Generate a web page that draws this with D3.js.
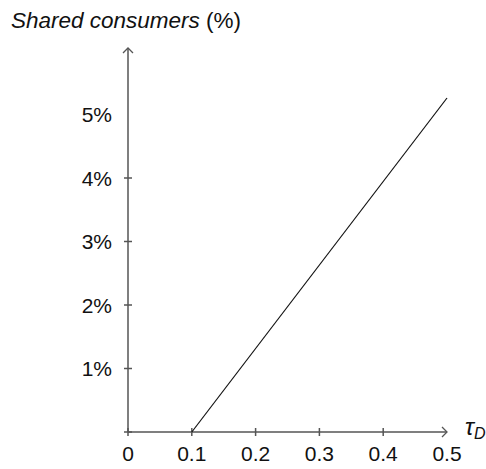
<!DOCTYPE html>
<html>
<head>
<meta charset="utf-8">
<script src="https://cdn.jsdelivr.net/npm/d3@7"></script>
<style>
  html, body { margin: 0; padding: 0; background: #fff; }
  svg { display: block; font-family: "Liberation Sans", Arial, sans-serif; }
</style>
</head>
<body>
<div id="chart"></div>
<script>
// data
const tauValues = [0.1, 0.5];
const sharedValues = [0, 5.26];
const xTickValues = [0, 0.1, 0.2, 0.3, 0.4, 0.5];
const xTickLabels = ["0", "0.1", "0.2", "0.3", "0.4", "0.5"];
const yTickValues = [1, 2, 3, 4, 5];
const yTickLabels = ["1%", "2%", "3%", "4%", "5%"];

const width = 486, height = 469;

const svg = d3.select("#chart")
    .append("svg")
    .attr("width", width)
    .attr("height", height);

const x = d3.scaleLinear().domain([0, 0.5]).range([128, 447]);
const y = d3.scaleLinear().domain([0, 5]).range([432, 114.5]);

const axisColor = "#555";

// axes lines
svg.append("line")
    .attr("x1", x(0)).attr("x2", x(0.5))
    .attr("y1", y(0)).attr("y2", y(0))
    .attr("stroke", axisColor).attr("stroke-width", 1.5);

svg.append("line")
    .attr("x1", x(0)).attr("x2", x(0))
    .attr("y1", y(0)).attr("y2", 48)
    .attr("stroke", axisColor).attr("stroke-width", 1.5);

// arrow heads
svg.append("path")
    .attr("d", `M${x(0.5) - 5},${y(0) - 5} L${x(0.5)},${y(0)} L${x(0.5) - 5},${y(0) + 5}`)
    .attr("fill", "none").attr("stroke", axisColor).attr("stroke-width", 1.3);

svg.append("path")
    .attr("d", `M${x(0) - 5},53 L${x(0)},48 L${x(0) + 5},53`)
    .attr("fill", "none").attr("stroke", axisColor).attr("stroke-width", 1.3);

// cross ticks (none at the arrow ends / 5%)
svg.append("g")
    .selectAll("line")
    .data(xTickValues.filter(d => d < 0.5))
    .enter()
    .append("line")
    .attr("x1", d => x(d)).attr("x2", d => x(d))
    .attr("y1", y(0) - 4).attr("y2", y(0) + 4)
    .attr("stroke", axisColor).attr("stroke-width", 1.5);

svg.append("g")
    .selectAll("line")
    .data([0].concat(yTickValues.filter(d => d < 5)))
    .enter()
    .append("line")
    .attr("x1", x(0) - 4).attr("x2", x(0) + 4)
    .attr("y1", d => y(d)).attr("y2", d => y(d))
    .attr("stroke", axisColor).attr("stroke-width", 1.5);

// tick labels
svg.append("g")
    .selectAll("text")
    .data(xTickValues)
    .enter()
    .append("text")
    .attr("x", d => x(d))
    .attr("y", 461)
    .attr("text-anchor", "middle")
    .attr("font-size", "21px")
    .attr("fill", "#111")
    .text((d, i) => xTickLabels[i]);

svg.append("g")
    .selectAll("text")
    .data(yTickValues)
    .enter()
    .append("text")
    .attr("x", 112)
    .attr("y", d => y(d))
    .attr("dy", "0.36em")
    .attr("text-anchor", "end")
    .attr("font-size", "21px")
    .attr("fill", "#111")
    .text((d, i) => yTickLabels[i]);

// data line
const line = d3.line()
    .x((d, i) => x(tauValues[i]))
    .y(d => y(d));

svg.append("path")
    .datum(sharedValues)
    .attr("d", line)
    .attr("fill", "none")
    .attr("stroke", "#111")
    .attr("stroke-width", 1.2);

// axis titles
const title = svg.append("text")
    .attr("x", 11)
    .attr("y", 28)
    .attr("font-size", "22.5px")
    .attr("fill", "#111");
title.append("tspan").attr("font-style", "italic").text("Shared consumers ");
title.append("tspan").text("(%)");

const tau = svg.append("text")
    .attr("x", 465)
    .attr("y", 435)
    .attr("font-size", "24px")
    .attr("font-style", "italic")
    .attr("fill", "#111");
tau.append("tspan").text("τ");
tau.append("tspan").attr("font-size", "16px").attr("dy", "4").text("D");
</script>
</body>
</html>
